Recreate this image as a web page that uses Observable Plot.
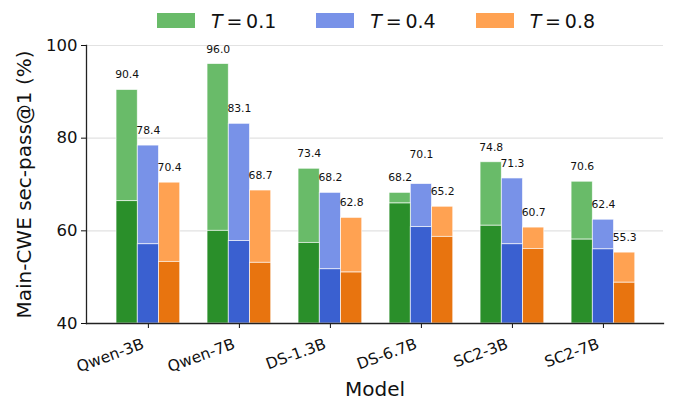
<!DOCTYPE html>
<html>
<head>
<meta charset="utf-8">
<script src="https://cdn.jsdelivr.net/npm/d3@7"></script>
<script src="https://cdn.jsdelivr.net/npm/@observablehq/plot@0.6"></script>
<style>
  body { margin: 0; background: #fff; font-family: "DejaVu Sans", sans-serif; }
  #wrap { width: 674px; }
  #legend { height: 34px; display: flex; justify-content: flex-start; align-items: center; padding-left: 157px; padding-top: 7px; box-sizing: border-box; font-size: 19px; color: #111; }
  .item { display: flex; align-items: center; margin-right: 40px; }
  .sw { width: 38px; height: 15px; margin-right: 16px; }
  .lab i { font-style: italic; }
</style>
</head>
<body>
<div id="wrap">
  <div id="legend"></div>
  <div id="chart"></div>
</div>
<script>
// ---- data ----
const models = ["Qwen-3B", "Qwen-7B", "DS-1.3B", "DS-6.7B", "SC2-3B", "SC2-7B"];
const temps = ["0.1", "0.4", "0.8"];
const totalT01 = [90.4, 96.0, 73.4, 68.2, 74.8, 70.6];
const totalT04 = [78.4, 83.1, 68.2, 70.1, 71.3, 62.4];
const totalT08 = [70.4, 68.7, 62.8, 65.2, 60.7, 55.3];
const baseT01 = [66.4, 60.0, 57.4, 65.9, 61.1, 58.1];
const baseT04 = [57.1, 57.8, 51.7, 60.8, 57.1, 56.0];
const baseT08 = [53.3, 53.1, 51.0, 58.7, 56.1, 48.8];
const yTicks = [40, 60, 80, 100];

const lightColors = {"0.1": "#69bb69", "0.4": "#7892e8", "0.8": "#ffa252"};
const darkColors  = {"0.1": "#2a8f2a", "0.4": "#3a60d0", "0.8": "#e8740f"};

// grouped-bar layout: each model occupies one unit on x; the three temperatures share 70% of it
const groupWidth = 0.7;
const barW = groupWidth / temps.length;
const totals = {"0.1": totalT01, "0.4": totalT04, "0.8": totalT08};
const bases  = {"0.1": baseT01, "0.4": baseT04, "0.8": baseT08};
const rows = [];
models.forEach((m, i) => temps.forEach((t, j) => {
  const x1 = i - groupWidth / 2 + j * barW;
  rows.push({model: m, idx: i, T: t, x1, x2: x1 + barW, xc: x1 + barW / 2, total: totals[t][i], base: bases[t][i]});
}));

// ---- legend ----
const legend = document.getElementById("legend");
temps.forEach(t => {
  const it = document.createElement("div");
  it.className = "item";
  it.innerHTML = `<div class="sw" style="background:${lightColors[t]}"></div><span class="lab"><i>T</i>&#8239;=&#8239;${t}</span>`;
  legend.appendChild(it);
});

// ---- chart ----
const chart = Plot.plot({
  width: 674,
  height: 366,
  marginTop: 11,
  marginBottom: 77,
  marginLeft: 86,
  marginRight: 11,
  style: {fontFamily: "DejaVu Sans, sans-serif", color: "#111", background: "#fff"},
  x: {domain: [-0.68, models.length - 0.34], label: "Model"},
  y: {domain: [40, 100], label: "Main-CWE sec-pass@1 (%)"},
  marks: [
    Plot.ruleY(yTicks.slice(1), {stroke: "#e2e2e2", strokeWidth: 1.2}),
    Plot.rectY(rows, {x1: "x1", x2: "x2", y1: "base", y2: "total", fill: d => lightColors[d.T], stroke: "#fff", strokeWidth: 0.8, strokeOpacity: 0.8}),
    Plot.rectY(rows, {x1: "x1", x2: "x2", y1: 40, y2: "base", fill: d => darkColors[d.T], stroke: "#fff", strokeWidth: 0.8, strokeOpacity: 0.8}),
    Plot.text(rows, {
      x: "xc",
      y: d => d.total + (d.model === "DS-6.7B" && d.T === "0.4" ? 3.1 : 0),
      text: d => d.total.toFixed(1), dy: -15, fontSize: 10.8, fill: "#111"
    }),
    Plot.axisY({ticks: yTicks, tickSize: 5, tickPadding: 4, fontSize: 16.5, label: "Main-CWE sec-pass@1 (%)", labelAnchor: "center", labelArrow: "none", labelOffset: 70}),
    Plot.axisX({ticks: d3.range(models.length), tickSize: 5, text: null, label: null}),
    Plot.axisX({ticks: d3.range(models.length), tickFormat: i => models[i], tickSize: 0, tickPadding: 20, dx: -5, tickRotate: -20, fontSize: 15.5, label: "Model", labelAnchor: "center", labelArrow: "none", labelOffset: 72}),
    Plot.frame({anchor: "left", stroke: "#222", strokeWidth: 1.3}),
    Plot.frame({anchor: "bottom", stroke: "#222", strokeWidth: 1.3})
  ]
});
chart.querySelectorAll('[aria-label="y-axis label"] text, [aria-label="x-axis label"] text').forEach(t => t.setAttribute("font-size", "20"));
document.getElementById("chart").appendChild(chart);
</script>
</body>
</html>
